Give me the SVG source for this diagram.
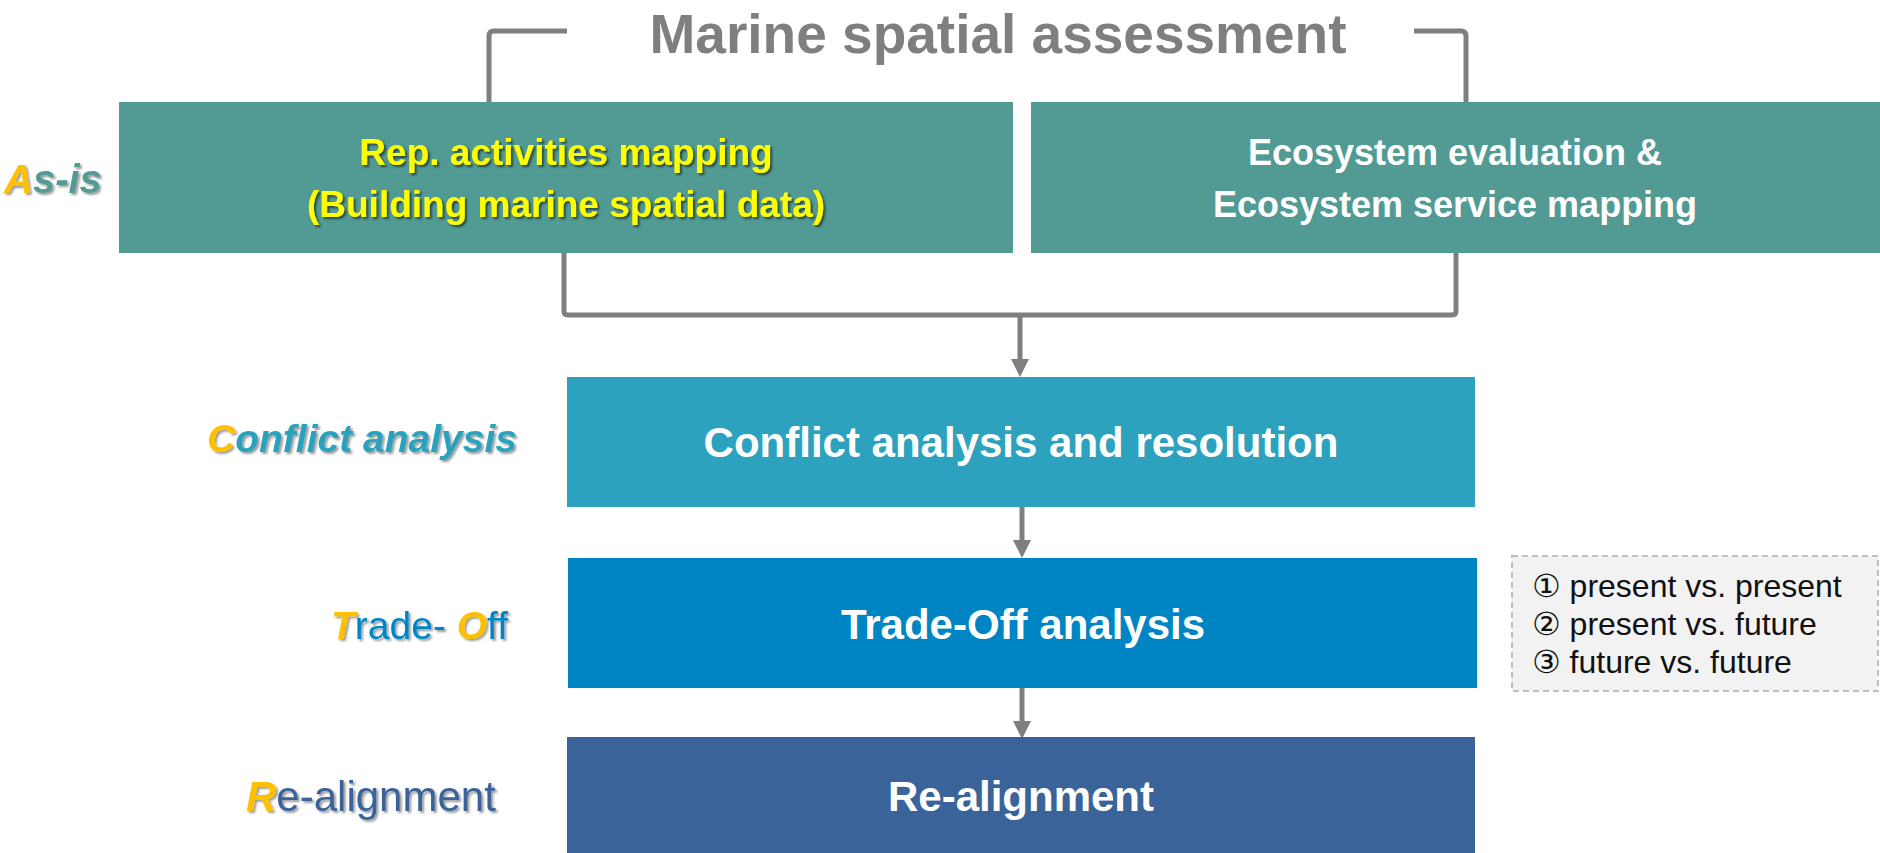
<svg xmlns="http://www.w3.org/2000/svg" width="1880" height="853" viewBox="0 0 1880 853">
<defs>
<style>
.t{font-family:"Liberation Sans","DejaVu Sans",Arial,sans-serif}
.bold{font-weight:bold}
.wt{fill:#ffffff}
.ctr{text-anchor:middle}
.gold{fill:#ffc000;font-style:italic;font-weight:bold}
.conn{fill:none;stroke:#7f7f7f;stroke-width:5}
</style>
<filter id="sh" x="-10%" y="-20%" width="130%" height="160%">
<feDropShadow dx="2" dy="2" stdDeviation="1.3" flood-color="#000" flood-opacity="0.4"/>
</filter>
<filter id="shy" x="-10%" y="-20%" width="130%" height="160%">
<feDropShadow dx="2" dy="2" stdDeviation="1" flood-color="#000" flood-opacity="0.55"/>
</filter>
<marker id="ah" viewBox="0 0 18 18" markerWidth="18" markerHeight="18" refX="4" refY="9" orient="auto" markerUnits="userSpaceOnUse">
<path d="M0,0 L18,9 L0,18 z" fill="#7f7f7f"/>
</marker>
</defs>
<rect width="1880" height="853" fill="#ffffff"/>

<g id="title">
<text class="t bold ctr" x="998" y="53" font-size="55" fill="#7f7f7f">Marine spatial assessment</text>
</g>

<g id="connectors">
<path class="conn" d="M489,102 V36 Q489,31 494,31 H567"/>
<path class="conn" d="M1414,31 H1461 Q1466,31 1466,36 V102"/>
<path class="conn" d="M564,253 V311 Q564,315 568,315 H1452 Q1456,315 1456,311 V253"/>
<line class="conn" x1="1020" y1="315" x2="1020" y2="363" marker-end="url(#ah)"/>
<line class="conn" x1="1022" y1="507" x2="1022" y2="544" marker-end="url(#ah)"/>
<line class="conn" x1="1022" y1="688" x2="1022" y2="725" marker-end="url(#ah)"/>
</g>

<g id="rep-activities">
<rect x="119" y="102" width="894" height="151" fill="#529a94"/>
<text class="t bold ctr" font-size="37" fill="#ffff00" filter="url(#shy)"><tspan x="566" y="165">Rep. activities mapping</tspan><tspan x="566" y="217">(Building marine spatial data)</tspan></text>
</g>

<g id="ecosystem">
<rect x="1031" y="102" width="849" height="151" fill="#529a94"/>
<text class="t bold ctr wt" font-size="36"><tspan x="1455" y="165">Ecosystem evaluation &amp;</tspan><tspan x="1455" y="217">Ecosystem service mapping</tspan></text>
</g>

<g id="conflict">
<rect x="567" y="377" width="908" height="130" fill="#2ca2be"/>
<text class="t bold ctr wt" x="1021" y="457" font-size="42">Conflict analysis and resolution</text>
</g>

<g id="tradeoff">
<rect x="568" y="558" width="909" height="130" fill="#0085c4"/>
<text class="t bold ctr wt" x="1023" y="639" font-size="42">Trade-Off analysis</text>
</g>

<g id="realignment">
<rect x="567" y="737" width="908" height="116" fill="#3a6399"/>
<text class="t bold ctr wt" x="1021" y="811" font-size="42">Re-alignment</text>
</g>

<g id="options">
<rect x="1512" y="556" width="366" height="135" fill="#f2f2f2" stroke="#bfbfbf" stroke-width="2" stroke-dasharray="6,4"/>
<text class="t" font-size="32" fill="#111111"><tspan x="1532" y="597">① present vs. present</tspan><tspan x="1532" y="635">② present vs. future</tspan><tspan x="1532" y="673">③ future vs. future</tspan></text>
</g>

<g id="label-asis">
<text class="t" x="4" y="193" font-size="40" font-weight="bold" font-style="italic" fill="#529a94" filter="url(#sh)"><tspan class="gold">A</tspan>s-is</text>
</g>

<g id="label-conflict">
<text class="t" x="207" y="452" font-size="39" font-weight="bold" font-style="italic" fill="#2ca2be" filter="url(#sh)"><tspan class="gold">C</tspan>onflict analysis</text>
</g>

<g id="label-tradeoff">
<text class="t" x="331" y="639" font-size="39" fill="#0085c4" filter="url(#sh)"><tspan class="gold">T</tspan>rade- <tspan class="gold">O</tspan>ff</text>
</g>

<g id="label-realign">
<text class="t" x="246" y="811" font-size="42" fill="#3a6399" filter="url(#sh)"><tspan class="gold">R</tspan>e-alignment</text>
</g>
</svg>
